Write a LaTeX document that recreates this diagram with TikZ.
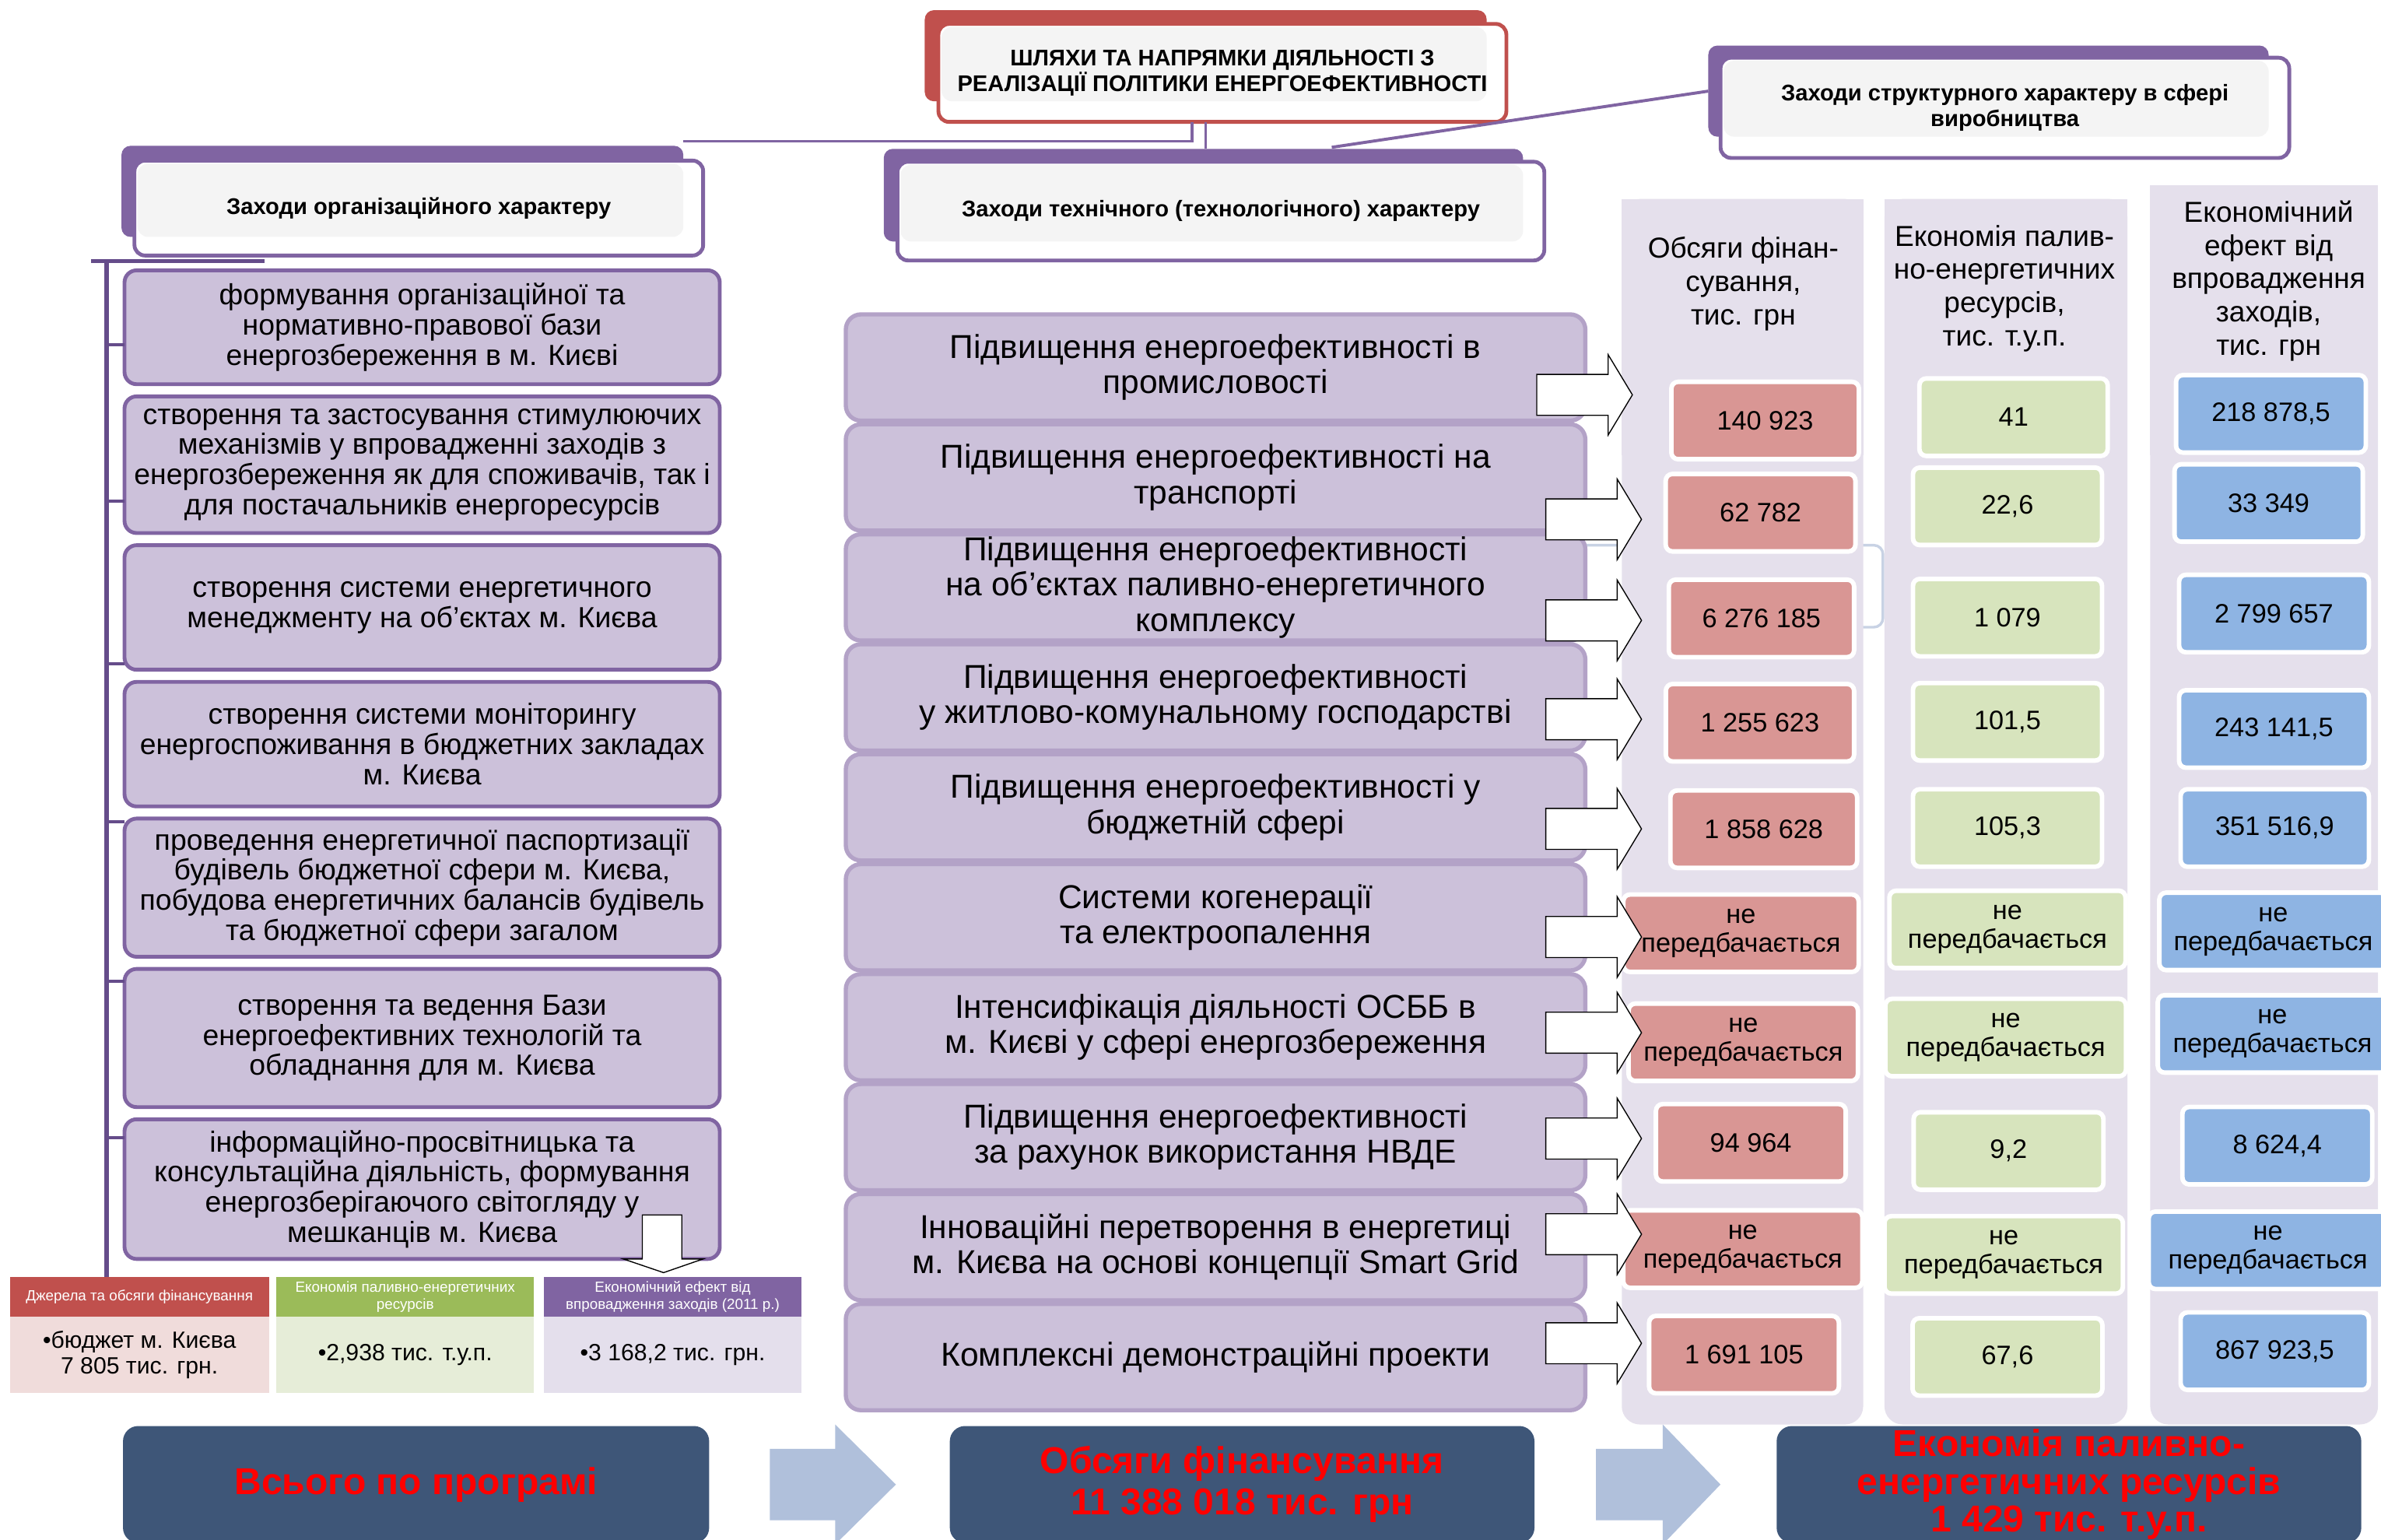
\documentclass[tikz,border=0pt]{standalone}
\usepackage{fontspec}
\setmainfont{Liberation Sans}
\usetikzlibrary{positioning,calc}

\definecolor{hdrpurple}{HTML}{8064A2}
\definecolor{hdrred}{HTML}{C0504D}
\definecolor{boxlav}{HTML}{CCC1DA}
\definecolor{boxedge}{HTML}{B3A2C7}
\definecolor{trunkc}{HTML}{654C8A}
\definecolor{panelc}{HTML}{E5E0EC}
\definecolor{finred}{HTML}{D99694}
\definecolor{fuelgreen}{HTML}{D7E4BD}
\definecolor{effblue}{HTML}{8EB4E3}
\definecolor{tblgreen}{HTML}{9BBB59}
\definecolor{srcbody}{HTML}{F0DCDB}
\definecolor{fuelbody}{HTML}{E6EDD8}
\definecolor{effbody}{HTML}{E4DFEC}
\definecolor{navyc}{HTML}{3E5678}
\definecolor{arrblue}{HTML}{B0C0DB}
\definecolor{faintc}{HTML}{C8D2E4}

\tikzset{
  hdrback/.style={rectangle, rounded corners=1.2mm, inner sep=0pt, outer sep=0pt},
  hdrfront/.style={rectangle, rounded corners=1.4mm, fill=white, line width=0.5mm, inner sep=0pt, outer sep=0pt,
                   align=center, font=\bfseries\fontsize{8.5}{9.6}\selectfont},
  patt/.style={path picture={\fill[gray!9] ($(path picture bounding box.north west)+(2,2)$) rectangle (#1.south east);}},
  orgbox/.style={rectangle, rounded corners=1.6mm, draw=hdrpurple, fill=boxlav, line width=0.5mm, minimum width=78.4mm,
                 inner sep=0pt, outer sep=0pt, align=center, font=\fontsize{10.9}{11.3}\selectfont},
  techbox/.style={rectangle, rounded corners=2mm, draw=boxedge, fill=boxlav, line width=0.55mm, minimum width=97.4mm,
                  minimum height=14mm, inner sep=0pt, outer sep=0pt, align=center, font=\fontsize{12.4}{13.2}\selectfont},
  colhead/.style={align=center, font=\fontsize{10.8}{12.5}\selectfont},
  card/.style={rectangle, rounded corners=0.9mm, draw=white, line width=0.6mm, minimum width=25mm, minimum height=10.2mm,
               inner sep=0pt, align=center, font=\fontsize{10}{10.8}\selectfont},
  fincard/.style={card, fill=finred},
  fuelcard/.style={card, fill=fuelgreen},
  effcard/.style={card, fill=effblue},
  tblhead/.style={rectangle, minimum height=5.2mm, inner sep=0pt, outer sep=0pt, text=white, align=center,
                  font=\fontsize{5.5}{6.3}\selectfont},
  tblbody/.style={rectangle, minimum height=10mm, inner sep=0pt, outer sep=0pt, align=center, font=\fontsize{8.8}{9.6}\selectfont},
  totbox/.style={rectangle, rounded corners=2mm, fill=navyc, minimum width=77mm, minimum height=15.4mm, inner sep=0pt,
                 text=red, align=center, font=\bfseries\fontsize{14}{15.4}\selectfont},
  linkln/.style={draw=hdrpurple, line width=0.4mm},
  trunk/.style={draw=trunkc, line width=0.6mm},
  branch/.style={draw=trunkc, line width=0.45mm},
  bigarr/.style={fill=arrblue},
  whitearr/.style={draw=black, fill=white, line width=0.4pt, line join=miter},
  blkarr/.pic={\path[whitearr] (0,-13.5) -- (47,-13.5) -- (47,-26.5) -- (63,0) -- (47,26.5) -- (47,13.5) -- (0,13.5) -- cycle;},
}

\begin{document}
\begin{tikzpicture}[x=0.2mm, y=-0.2mm]
  \useasboundingbox (0,0) rectangle (1568,1014);
  \clip (0,0) rectangle (1568,1014);

  % faint bracket behind the columns
  \draw[faintc, line width=0.35mm, rounded corners=1.2mm] (1036,359) -- (1240,359) -- (1240,413) -- (1200,413);

  % column panels
  \fill[panelc, rounded corners=2.4mm] (1068,131) rectangle (1227,938);
  \fill[panelc] (1068,131) rectangle (1227,300);
  \fill[panelc, rounded corners=2.4mm] (1241,131) rectangle (1401,938);
  \fill[panelc] (1241,131) rectangle (1401,300);
  \fill[panelc, rounded corners=2.4mm] (1416,122) rectangle (1566,938);
  \fill[panelc] (1416,122) rectangle (1566,300);

  \node[colhead] (finhd) at (1148,187) {Обсяги фінан-\\сування,\\тис. грн};
  \node[colhead] (fuelhd) at (1320,190) {Економія палив-\\но-енергетичних\\ресурсів,\\тис. т.у.п.};
  \node[colhead] (effhd) at (1494,185) {Економічний\\ефект від\\впровадження\\заходів,\\тис. грн};

  % headers
  \node[hdrback, fill=hdrred, minimum width=74mm, minimum height=12mm] (ttlbk) at (794,36.7) {};
  \node[hdrfront, draw=hdrred, minimum width=74.8mm, minimum height=12.9mm, patt=ttlbk] (ttl) at (805,48)
    {ШЛЯХИ ТА НАПРЯМКИ ДІЯЛЬНОСТІ З\\РЕАЛІЗАЦІЇ ПОЛІТИКИ ЕНЕРГОЕФЕКТИВНОСТІ};
  \node[hdrback, fill=hdrpurple, minimum width=74mm, minimum height=12mm] (orgbk) at (265,126) {};
  \node[hdrfront, draw=hdrpurple, minimum width=74.9mm, minimum height=12.5mm, patt=orgbk] (orghd) at (275.8,137)
    {Заходи організаційного характеру};
  \node[hdrback, fill=hdrpurple, minimum width=84.2mm, minimum height=12.2mm] (techbk) at (792.5,128.5) {};
  \node[hdrfront, draw=hdrpurple, minimum width=85.2mm, minimum height=13mm, patt=techbk] (techhd) at (804,139)
    {Заходи технічного (технологічного) характеру};
  \node[hdrback, fill=hdrpurple, minimum width=73.8mm, minimum height=12mm] (strbk) at (1309.5,60) {};
  \node[hdrfront, draw=hdrpurple, minimum width=74.9mm, minimum height=13.2mm, patt=strbk] (strhd) at (1320.3,71)
    {Заходи структурного характеру в сфері\\виробництва};

  \coordinate (orgtop) at (450,93);
  \coordinate (tjl) at ($(ttl.south)+(-20,0)$);
  \coordinate (tjr) at ($(ttl.south)+(-11,0)$);
  \coordinate (dj) at (877,97);
  \draw[linkln] (tjl) |- (orgtop);
  \draw[linkln] (tjr) -- (tjr |- techbk.north);
  \draw[linkln] (dj) -- (strbk.west);

  % organisational measures
  \coordinate (trtop) at (70,172);
  \coordinate (trbot) at (70,841);
  \draw[branch] (60,172) -- (174,172);
  \draw[trunk] (trtop) -- (trbot);

  \node[orgbox, minimum height=15mm] (org1) at (278,215.5)
    {формування організаційної та\\нормативно-правової бази\\енергозбереження в м. Києві};
  \node[orgbox, minimum height=18mm, below=1.6mm of org1] (org2)
    {створення та застосування стимулюючих\\механізмів у впровадженні заходів з\\енергозбереження як для споживачів, так і\\для постачальників енергоресурсів};
  \node[orgbox, minimum height=16.4mm, below=1.6mm of org2] (org3)
    {створення системи енергетичного\\менеджменту на об’єктах м. Києва};
  \node[orgbox, minimum height=16.4mm, below=1.6mm of org3] (org4)
    {створення системи моніторингу\\енергоспоживання в бюджетних закладах\\м. Києва};
  \node[orgbox, minimum height=18.2mm, below=1.6mm of org4] (org5)
    {проведення енергетичної паспортизації\\будівель бюджетної сфери м. Києва,\\побудова енергетичних балансів будівель\\та бюджетної сфери загалом};
  \node[orgbox, minimum height=18.2mm, below=1.6mm of org5] (org6)
    {створення та ведення Бази\\енергоефективних технологій та\\обладнання для м. Києва};
  \node[orgbox, minimum height=18.4mm, below=1.6mm of org6] (org7)
    {інформаційно-просвітницька та\\консультаційна діяльність, формування\\енергозберігаючого світогляду у\\мешканців м. Києва};

  \coordinate (tk1) at (70,227);
  \coordinate (tk2) at (70,330);
  \coordinate (tk3) at (70,437);
  \coordinate (tk4) at (70,541);
  \coordinate (tk5) at (70,646);
  \coordinate (tk6) at (70,749);
  \draw[branch] (tk1) -- (tk1 -| org1.west);
  \draw[branch] (tk2) -- (tk2 -| org2.west);
  \draw[branch] (tk3) -- (tk3 -| org3.west);
  \draw[branch] (tk4) -- (tk4 -| org5.west);
  \draw[branch] (tk5) -- (tk5 -| org6.west);
  \draw[branch] (tk6) -- (tk6 -| org7.west);

  \draw[whitearr] (423,800) -- (449,800) -- (449,829) -- (463,829) -- (437,838) -- (410.5,829) -- (423,829) -- cycle;

  % small table under the list
  \node[tblhead, fill=hdrred, minimum width=34.1mm] (srcH) at (91.8,854) {Джерела та обсяги фінансування};
  \node[tblbody, fill=srcbody, minimum width=34.1mm, below=0pt of srcH] (srcB) {•бюджет м. Києва\\7 805 тис. грн.};
  \node[tblhead, fill=tblgreen, minimum width=33.9mm] (fuelH) at (266.8,854) {Економія паливно-енергетичних\\ресурсів};
  \node[tblbody, fill=fuelbody, minimum width=33.9mm, below=0pt of fuelH] (fuelB) {•2,938 тис. т.у.п.};
  \node[tblhead, fill=hdrpurple, minimum width=34mm] (effH) at (443,854) {Економічний ефект від\\впровадження заходів (2011 р.)};
  \node[tblbody, fill=effbody, minimum width=34mm, below=0pt of effH] (effB) {•3 168,2 тис. грн.};

  % technical measures
  \node[techbox] (tech1) at (800.5,242) {Підвищення енергоефективності в\\промисловості};
  \node[techbox, below=0.48mm of tech1] (tech2) {Підвищення енергоефективності на\\транспорті};
  \node[techbox, below=0.48mm of tech2] (tech3) {Підвищення енергоефективності\\на об'єктах паливно-енергетичного\\комплексу};
  \node[techbox, below=0.48mm of tech3] (tech4) {Підвищення енергоефективності\\у житлово-комунальному господарстві};
  \node[techbox, below=0.48mm of tech4] (tech5) {Підвищення енергоефективності у\\бюджетній сфері};
  \node[techbox, below=0.48mm of tech5] (tech6) {Системи когенерації\\та електроопалення};
  \node[techbox, below=0.48mm of tech6] (tech7) {Інтенсифікація діяльності ОСББ в\\м. Києві у сфері енергозбереження};
  \node[techbox, below=0.48mm of tech7] (tech8) {Підвищення енергоефективності\\за рахунок використання НВДЕ};
  \node[techbox, below=0.48mm of tech8] (tech9) {Інноваційні перетворення в енергетиці\\м. Києва на основі концепції Smart Grid};
  \node[techbox, below=0.48mm of tech9] (tech10) {Комплексні демонстраційні проекти};

  % values
  \node[fincard, minimum width=24.7mm] (fin1) at (1162.4,276.9) {140 923};
  \node[fincard] (fin2) at (1159.4,337.6) {62 782};
  \node[fincard, minimum width=24.4mm] (fin3) at (1160,407.2) {6 276 185};
  \node[fincard, minimum width=24.8mm] (fin4) at (1159,475.9) {1 255 623};
  \node[fincard, minimum width=24.6mm] (fin5) at (1161.5,546) {1 858 628};
  \node[fincard, minimum width=31mm] (fin6) at (1146.5,614.5) {не\\передбачається};
  \node[fincard, minimum width=30.2mm] (fin7) at (1148,686.3) {не\\передбачається};
  \node[fincard] (fin8) at (1153,752.5) {94 964};
  \node[fincard, minimum width=31.5mm] (fin9) at (1147.7,822.5) {не\\передбачається};
  \node[fincard] (fin10) at (1148.5,892) {1 691 105};

  \node[fuelcard, minimum width=24.8mm] (fuel1) at (1326,274.7) {41};
  \node[fuelcard, minimum width=24.9mm] (fuel2) at (1322,333.4) {22,6};
  \node[fuelcard, minimum width=24.9mm] (fuel3) at (1322,406.7) {1 079};
  \node[fuelcard, minimum width=24.9mm] (fuel4) at (1322,475.3) {101,5};
  \node[fuelcard, minimum width=24.9mm] (fuel5) at (1322,545.2) {105,3};
  \node[fuelcard, minimum width=31.1mm] (fuel6) at (1322,612) {не\\передбачається};
  \node[fuelcard, minimum width=31.7mm] (fuel7) at (1320.8,683.2) {не\\передбачається};
  \node[fuelcard] (fuel8) at (1322.7,757.9) {9,2};
  \node[fuelcard, minimum width=31.4mm] (fuel9) at (1319.5,826.3) {не\\передбачається};
  \node[fuelcard] (fuel10) at (1322,893.5) {67,6};

  \node[effcard] (eff1) at (1495.5,272.5) {218 878,5};
  \node[effcard, minimum width=24.8mm] (eff2) at (1494,331.2) {33 349};
  \node[effcard] (eff3) at (1497.5,404) {2 799 657};
  \node[effcard] (eff4) at (1497.5,480) {243 141,5};
  \node[effcard, minimum width=24.8mm] (eff5) at (1498,545.2) {351 516,9};
  \node[effcard, minimum width=30mm] (eff6) at (1497,613.3) {не\\передбачається};
  \node[effcard, minimum width=30.2mm] (eff7) at (1496.5,680.8) {не\\передбачається};
  \node[effcard] (eff8) at (1499.7,754.4) {8 624,4};
  \node[effcard, minimum width=31.4mm] (eff9) at (1493.5,823.3) {не\\передбачається};
  \node[effcard, minimum width=24.8mm] (eff10) at (1498,889.7) {867 923,5};

  % block arrows from measures to values
  \pic at (1012,260) {blkarr};
  \pic at (1018,342) {blkarr};
  \pic at (1018,408.5) {blkarr};
  \pic at (1018,473.6) {blkarr};
  \pic at (1018,545.8) {blkarr};
  \pic at (1018,617) {blkarr};
  \pic at (1018,680) {blkarr};
  \pic at (1018,749.7) {blkarr};
  \pic at (1018,812.7) {blkarr};
  \pic at (1018,884.5) {blkarr};

  % totals
  \node[totbox, minimum width=77.2mm] (total) at (274,977.5) {Всього по програмі};
  \node[totbox] (totfin) at (818,977.5) {Обсяги фінансування\\11 388 018 тис. грн};
  \node[totbox, font=\bfseries\fontsize{14}{14.2}\selectfont] (totfuel) at (1362.5,977.5)
    {Економія паливно-\\енергетичних ресурсів\\1 429 тис. т.у.п.};
  \fill[bigarr] (507,954) -- (550,954) -- (550,938) -- (590,977.5) -- (550,1017) -- (550,1001) -- (507,1001) -- cycle;
  \fill[bigarr] (1051,954) -- (1095,954) -- (1095,938) -- (1133,977.5) -- (1095,1017) -- (1095,1001) -- (1051,1001) -- cycle;

\end{tikzpicture}
\end{document}
